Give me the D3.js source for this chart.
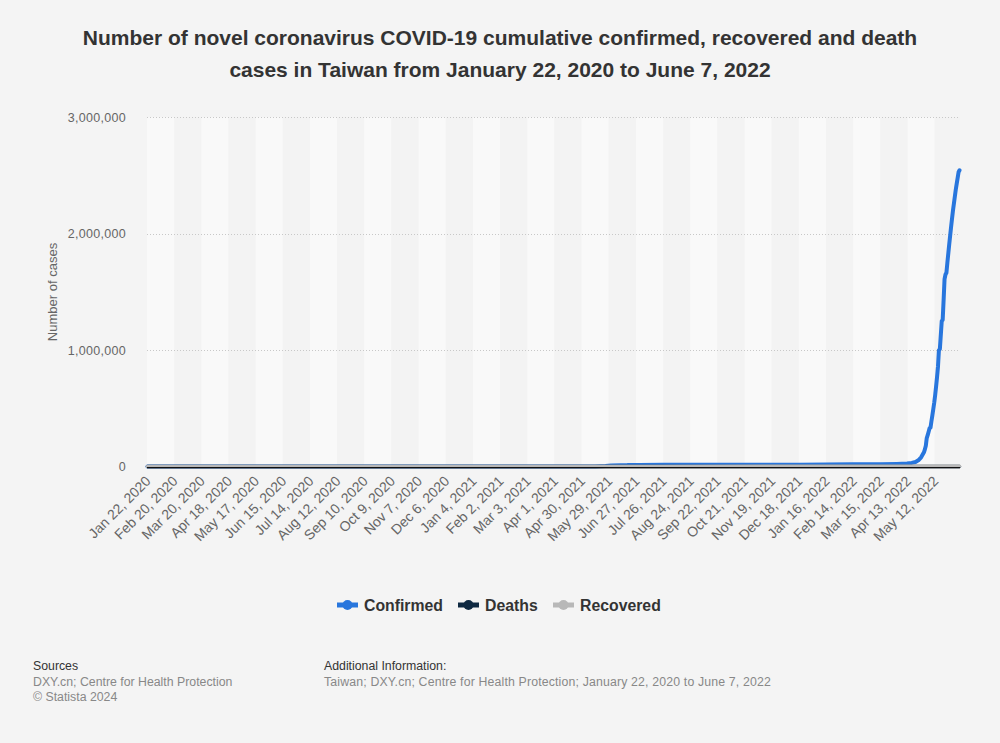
<!DOCTYPE html>
<html>
<head>
<meta charset="utf-8">
<script src="https://cdn.jsdelivr.net/npm/d3@7"></script>
<style>
  html, body { margin: 0; padding: 0; background: #f4f4f4; }
  svg { display: block; font-family: "Liberation Sans", Arial, Helvetica, sans-serif; }
</style>
</head>
<body>
<div id="chart"></div>
<script>
// ---------------- DATA ----------------
const titleLines = [
  "Number of novel coronavirus COVID-19 cumulative confirmed, recovered and death",
  "cases in Taiwan from January 22, 2020 to June 7, 2022"
];
const seriesNames = ["Confirmed", "Deaths", "Recovered"];
const seriesColors = ["#2876dd", "#0f2942", "#b8b8b8"];

const xTickLabels = [
  "Jan 22, 2020","Feb 20, 2020","Mar 20, 2020","Apr 18, 2020","May 17, 2020","Jun 15, 2020",
  "Jul 14, 2020","Aug 12, 2020","Sep 10, 2020","Oct 9, 2020","Nov 7, 2020","Dec 6, 2020",
  "Jan 4, 2021","Feb 2, 2021","Mar 3, 2021","Apr 1, 2021","Apr 30, 2021","May 29, 2021",
  "Jun 27, 2021","Jul 26, 2021","Aug 24, 2021","Sep 22, 2021","Oct 21, 2021","Nov 19, 2021",
  "Dec 18, 2021","Jan 16, 2022","Feb 14, 2022","Mar 15, 2022","Apr 13, 2022","May 12, 2022"
];
const yTickValues = [0, 1000000, 2000000, 3000000];
const dateStart = "2020-01-22";
const dateEnd = "2022-06-07";

const confirmedDates = [
  "2020-01-22","2020-02-20","2020-03-20","2020-04-18","2020-05-17","2020-07-14","2020-10-09",
  "2020-12-06","2021-01-04","2021-03-03","2021-05-01","2021-05-14","2021-05-20","2021-05-25",
  "2021-05-31","2021-06-10","2021-06-17","2021-06-18","2021-06-30","2021-07-26","2021-09-22",
  "2021-12-18","2022-01-16","2022-02-14","2022-03-15","2022-04-01","2022-04-12","2022-04-17",
  "2022-04-21","2022-04-24","2022-04-27","2022-04-30","2022-05-01","2022-05-02","2022-05-03",
  "2022-05-04","2022-05-05","2022-05-06","2022-05-07","2022-05-08","2022-05-09","2022-05-10",
  "2022-05-11","2022-05-12","2022-05-13","2022-05-14","2022-05-15","2022-05-16","2022-05-17",
  "2022-05-18","2022-05-19","2022-05-20","2022-05-21","2022-05-22","2022-05-23","2022-05-24",
  "2022-05-25","2022-05-26","2022-05-27","2022-05-28","2022-05-29","2022-05-30","2022-05-31",
  "2022-06-01","2022-06-02","2022-06-03","2022-06-04","2022-06-05","2022-06-06","2022-06-07"
];
const confirmedValues = [
  1, 24, 135, 398, 440, 451, 527,
  690, 819, 970, 1153, 1290, 2825, 4917,
  8511, 11694, 12400, 13500, 14634, 15500, 16100,
  16800, 17900, 19300, 20800, 23000, 25900, 31500,
  40000, 54000, 80000, 123000, 148000, 180000, 245000,
  270000, 300000, 330000, 335000, 390000, 440000, 495000,
  550000, 615000, 690000, 770000, 860000, 1000000, 1010000,
  1130000, 1250000, 1260000, 1430000, 1610000, 1650000, 1665000,
  1750000, 1830000, 1910000, 1985000, 2060000, 2130000, 2200000,
  2260000, 2320000, 2380000, 2430000, 2480000, 2530000, 2545000
];

const deathsDates = ["2020-01-22","2020-06-01","2021-05-14","2021-06-18","2021-07-26","2021-12-18","2022-04-13","2022-05-12","2022-06-07"];
const deathsValues = [0, 7, 12, 400, 780, 848, 854, 960, 1550];

const recoveredDates = ["2020-01-22","2020-05-17","2020-12-06","2021-05-14","2021-07-26","2021-12-18","2022-04-13","2022-06-07"];
const recoveredValues = [0, 400, 570, 1100, 1800, 2100, 2200, 2200];

const yAxisTitle = "Number of cases";
const sourcesTitle = "Sources";
const sourcesLines = ["DXY.cn; Centre for Health Protection", "\u00A9 Statista 2024"];
const addInfoTitle = "Additional Information:";
const addInfoLines = ["Taiwan; DXY.cn; Centre for Health Protection; January 22, 2020 to June 7, 2022"];

// ---------------- CHART ----------------
const W = 1000, H = 743;
const plotL = 147, plotR = 960, plotT = 117.3, plotB = 466.6;
const parseISO = d3.utcParse("%Y-%m-%d");
const parseLabel = d3.utcParse("%b %d, %Y");
const t0 = parseISO(dateStart), t1 = parseISO(dateEnd);
const nDays = Math.round((t1 - t0) / 864e5) + 1;
const dayW = (plotR - plotL) / nDays;

const x = d3.scaleUtc().domain([t0, t1]).range([plotL + dayW / 2, plotR - dayW / 2]);
const y = d3.scaleLinear().domain([0, 3000000]).range([plotB, plotT]);

const svg = d3.select("#chart").append("svg").attr("width", W).attr("height", H);
svg.append("rect").attr("width", W).attr("height", H).attr("fill", "#f4f4f4");

// Title
svg.append("g").selectAll("text").data(titleLines).join("text")
  .attr("x", W / 2).attr("y", (d, i) => 45 + i * 32)
  .attr("text-anchor", "middle").attr("font-size", 21).attr("font-weight", "bold")
  .attr("fill", "#333").text(d => d);

// Alternating bands
const tickDates = xTickLabels.map(parseLabel);
svg.append("g").selectAll("rect").data(tickDates).join("rect")
  .attr("x", d => x(d) - dayW / 2)
  .attr("width", (d, i) => (i < tickDates.length - 1 ? x(tickDates[i + 1]) - dayW / 2 : plotR) - (x(d) - dayW / 2))
  .attr("y", plotT).attr("height", plotB - plotT)
  .attr("fill", (d, i) => i % 2 === 0 ? "#f9f9f9" : "#f3f3f3");

// Grid lines
svg.append("g").selectAll("line").data(yTickValues.filter(v => v > 0)).join("line")
  .attr("x1", plotL).attr("x2", plotR)
  .attr("y1", d => Math.round(y(d)) + 0.5).attr("y2", d => Math.round(y(d)) + 0.5)
  .attr("stroke", "#c8c8c8").attr("stroke-width", 1).attr("stroke-dasharray", "1,2");

// Y axis
const yAxis = svg.append("g").attr("transform", `translate(${plotL},0)`)
  .call(d3.axisLeft(y).tickValues(yTickValues).tickFormat(d3.format(",")).tickSize(0).tickPadding(21));
yAxis.select(".domain").remove();
yAxis.selectAll("text").attr("font-size", 12.5).attr("fill", "#666")
  .attr("font-family", "\"Liberation Sans\", Arial, sans-serif").attr("letter-spacing", "0.3");

svg.append("text").attr("transform", `translate(57,292) rotate(-90)`)
  .attr("text-anchor", "middle").attr("font-size", 13).attr("fill", "#666").text(yAxisTitle);

// X axis labels
svg.append("g").selectAll("text").data(tickDates).join("text")
  .attr("transform", d => `translate(${x(d) + 4},${482}) rotate(-45)`)
  .attr("text-anchor", "end").attr("font-size", 14).attr("fill", "#666")
  .text((d, i) => xTickLabels[i]);

// Lines
const line = d3.line().x(d => x(d[0])).y(d => y(d[1]));
const series = [
  confirmedDates.map((d, i) => [parseISO(d), confirmedValues[i]]),
  deathsDates.map((d, i) => [parseISO(d), deathsValues[i]]),
  recoveredDates.map((d, i) => [parseISO(d), recoveredValues[i]])
];
const widths = [4, 3.5, 3.5];
svg.append("g").selectAll("path").data(series).join("path")
  .attr("d", line).attr("fill", "none")
  .attr("stroke", (d, i) => seriesColors[i]).attr("stroke-width", (d, i) => widths[i])
  .attr("stroke-linejoin", "round").attr("stroke-linecap", "round");

// X axis line
svg.append("line").attr("x1", plotL).attr("x2", plotR).attr("y1", 467.6).attr("y2", 467.6)
  .attr("stroke", "#111").attr("stroke-width", 1.4);

// Legend
const legendX = [337, 458, 553];
const lg = svg.append("g").selectAll("g").data(seriesNames).join("g")
  .attr("transform", (d, i) => `translate(${legendX[i]},605)`);
lg.append("line").attr("x1", 0).attr("x2", 21).attr("stroke", (d, i) => seriesColors[i]).attr("stroke-width", 5);
lg.append("circle").attr("cx", 10.5).attr("r", 5).attr("fill", (d, i) => seriesColors[i]);
lg.append("text").attr("x", 27).attr("y", 5.5).attr("font-size", 15.8).attr("font-weight", "bold")
  .attr("fill", "#333").text(d => d);

// Footer
const f1 = svg.append("g").attr("transform", "translate(33,0)");
f1.append("text").attr("y", 670).attr("font-size", 12.3).attr("fill", "#333").text(sourcesTitle);
f1.selectAll("text.l").data(sourcesLines).join("text").attr("class", "l")
  .attr("y", (d, i) => 686 + i * 15).attr("font-size", 12.3).attr("fill", "#888").text(d => d);
const f2 = svg.append("g").attr("transform", "translate(324,0)");
f2.append("text").attr("y", 670).attr("font-size", 12.3).attr("fill", "#333").text(addInfoTitle);
f2.selectAll("text.l").data(addInfoLines).join("text").attr("class", "l")
  .attr("y", (d, i) => 686 + i * 15).attr("font-size", 12.3).attr("letter-spacing", "0.16")
  .attr("fill", "#888").text(d => d);
</script>
</body>
</html>
